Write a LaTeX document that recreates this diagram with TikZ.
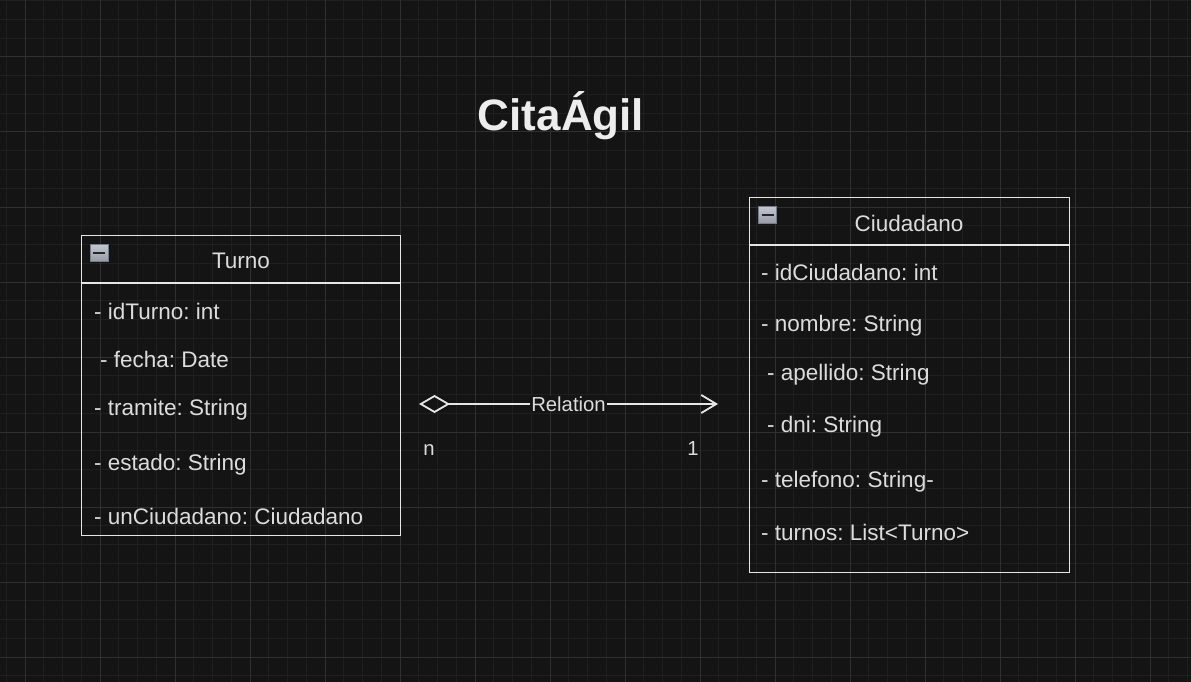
\documentclass[tikz,border=0pt]{standalone}
\usepackage{fontspec}
\setmainfont{Liberation Sans}
\usepackage{xcolor}
\usetikzlibrary{arrows.meta}
\definecolor{bg}{HTML}{141414}
\definecolor{minorline}{HTML}{1F1F1F}
\definecolor{majorline}{HTML}{303030}
\definecolor{ink}{HTML}{DCDCDC}
\definecolor{frame}{HTML}{E6E6E6}
\definecolor{toggletop}{HTML}{C4C8D0}
\definecolor{togglebot}{HTML}{979CA8}
\definecolor{toggleedge}{HTML}{767B88}
\frenchspacing

\begin{document}
\begin{tikzpicture}[x=1pt,y=-1pt,
    umlbox/.style={draw=frame,line width=1.8pt,inner sep=0pt},
    divider/.style={draw=frame,line width=1.8pt},
    attr/.style={anchor=base west,inner sep=0pt,text=ink,font=\fontsize{22.5}{26}\selectfont},
    head/.style={anchor=base,inner sep=0pt,text=ink,font=\fontsize{22.5}{26}\selectfont},
    small/.style={anchor=base,inner sep=0pt,text=ink,font=\fontsize{20.3}{24}\selectfont},
    togglebox/.style={draw=toggleedge,line width=0.8pt,top color=toggletop,bottom color=togglebot,
      minimum width=18pt,minimum height=17pt,inner sep=0pt}]
  \useasboundingbox (0,0) rectangle (1191,682);
  \fill[bg] (0,0) rectangle (1191,682);
  % grid
  \foreach \k in {0,...,63}
    \draw[minorline,line width=1pt] ({6.25+18.75*\k},0) -- ({6.25+18.75*\k},682);
  \foreach \k in {0,...,36}
    \draw[minorline,line width=1pt] (0,{0.75+18.75*\k}) -- (1191,{0.75+18.75*\k});
  \foreach \k in {0,...,15}
    \draw[majorline,line width=1pt] ({25+75*\k},0) -- ({25+75*\k},682);
  \foreach \k in {0,...,8}
    \draw[majorline,line width=1pt] (0,{57+75*\k}) -- (1191,{57+75*\k});

  \node[anchor=base,inner sep=0pt,text=white!93!black,font=\bfseries\fontsize{44}{50}\selectfont] (title) at (561,131) {CitaÁgil};

  % Turno
  \node[umlbox,minimum width=319pt,minimum height=300pt] (turno) at (241,385.5) {};
  \draw[divider] ([yshift=-48.5pt]turno.north west) -- ([yshift=-48.5pt]turno.north east);
  \node[togglebox] (turnotoggle) at (99,252.5) {};
  \draw[line width=2pt,black!85] ([xshift=-6pt]turnotoggle.center) -- ([xshift=6pt]turnotoggle.center);
  \node[head] (turnoname) at (241,268.5) {Turno};
  \node[attr] (idturno) at (94,319.5) {- idTurno: int};
  \node[attr] (fecha) at (100,367.5) {- fecha: Date};
  \node[attr] (tramite) at (94,415.5) {- tramite: String};
  \node[attr] (estado) at (94,470.5) {- estado: String};
  \node[attr] (unciudadano) at (94,524.5) {- unCiudadano: Ciudadano};

  % Ciudadano
  \node[umlbox,minimum width=320pt,minimum height=375pt] (ciudadano) at (909.5,385) {};
  \draw[divider] ([yshift=-48.5pt]ciudadano.north west) -- ([yshift=-48.5pt]ciudadano.north east);
  \node[togglebox] (ciudadanotoggle) at (767.5,214.5) {};
  \draw[line width=2pt,black!85] ([xshift=-6pt]ciudadanotoggle.center) -- ([xshift=6pt]ciudadanotoggle.center);
  \node[head] (ciudadanoname) at (909,231.5) {Ciudadano};
  \node[attr] (idciudadano) at (761,280.5) {- idCiudadano: int};
  \node[attr] (nombre) at (761,331.5) {- nombre: String};
  \node[attr] (apellido) at (767,380.5) {- apellido: String};
  \node[attr] (dni) at (767,432.5) {- dni: String};
  \node[attr] (telefono) at (761,487.5) {- telefono: String-};
  \node[attr] (turnos) at (761,540.5) {- turnos: List<Turno>};

  % relation
  \coordinate (relstart) at (419,404);
  \coordinate (relend) at (718,404);
  \draw[frame,line width=1.8pt,{Diamond[open,length=31pt,width=18pt]}-{Straight Barb[length=15pt,width=18pt]}]
    (relstart) -- node[small,anchor=center,fill=bg,inner sep=1pt] (relname) {Relation} (relend);
  \node[small] (multn) at (429,455) {n};
  \node[small] (multone) at (693,455) {1};
\end{tikzpicture}
\end{document}
